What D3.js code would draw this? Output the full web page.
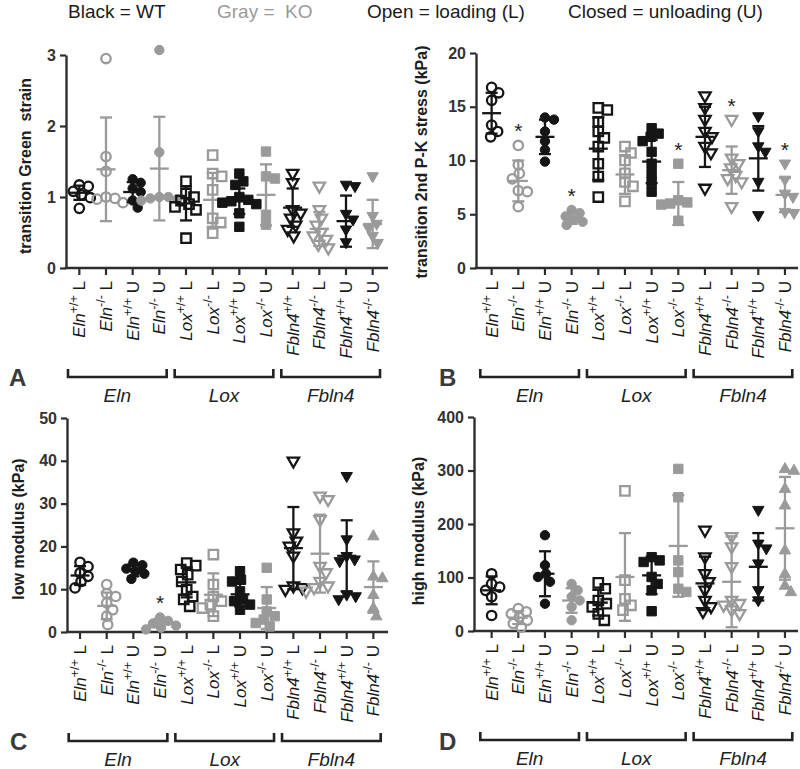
<!DOCTYPE html>
<html><head><meta charset="utf-8">
<script src="https://cdn.jsdelivr.net/npm/d3@7"></script>
<style>
body{margin:0;background:#fff}
svg{display:block}
text{font-family:"Liberation Sans", Arial, Helvetica, sans-serif}
</style>
</head><body>
<svg id="chart" width="800" height="769"></svg>
<script>
// ---------- categories ----------
const geneNames   = ["Eln", "Lox", "Fbln4"];
const catGene     = ["Eln","Eln","Eln","Eln","Lox","Lox","Lox","Lox","Fbln4","Fbln4","Fbln4","Fbln4"];
const catGenotype = ["+/+","-/-","+/+","-/-","+/+","-/-","+/+","-/-","+/+","-/-","+/+","-/-"];
const catPhase    = ["L","L","U","U","L","L","U","U","L","L","U","U"];

// ---------- A: transition Green strain ----------
const strainTicks = [0, 1, 2, 3];
const strainValues = [
  [1.17, 1.15, 1.08, 1.03, 0.99, 0.84],
  [2.95, 1.57, 1.36, 1.0, 0.98, 0.97, 0.92],
  [1.25, 1.2, 1.12, 1.07, 0.95, 0.85],
  [3.07, 1.63, 1.0, 1.0, 0.98, 0.97, 0.95],
  [1.22, 1.05, 1.0, 0.95, 0.9, 0.86, 0.82, 0.42],
  [1.59, 1.33, 1.29, 1.1, 0.7, 0.64, 0.49],
  [1.33, 1.22, 1.17, 1.0, 0.96, 0.94, 0.92, 0.9, 0.77, 0.58],
  [1.64, 1.29, 1.26, 0.75, 0.61],
  [1.33, 1.2, 0.82, 0.77, 0.7, 0.6, 0.54, 0.45],
  [1.15, 0.82, 0.7, 0.6, 0.5, 0.45, 0.4, 0.33, 0.28],
  [1.17, 1.15, 0.76, 0.68, 0.54, 0.36],
  [1.29, 0.73, 0.62, 0.56, 0.45, 0.35]
];
const strainMeans = [1.06, 1.39, 1.07, 1.40, 0.91, 0.96, 0.94, 1.03, 0.85, 0.55, 0.66, 0.62];
const strainSDs   = [0.10, 0.73, 0.14, 0.73, 0.24, 0.38, 0.18, 0.43, 0.27, 0.24, 0.36, 0.34];
const strainStars = [];

// ---------- B: transition 2nd P-K stress ----------
const stressTicks = [0, 5, 10, 15, 20];
const stressValues = [
  [16.8, 16.3, 15.6, 13.3, 12.7, 12.2],
  [11.4, 9.6, 8.8, 8.3, 7.2, 7.1, 5.7],
  [14.0, 13.8, 12.7, 11.8, 11.0, 9.9],
  [5.4, 5.1, 4.8, 4.5, 4.3, 4.0],
  [14.9, 14.7, 13.6, 12.7, 12.1, 11.3, 9.7, 8.5, 6.6],
  [11.3, 10.7, 10.0, 8.8, 8.0, 7.6, 6.2],
  [13.0, 12.5, 12.2, 11.8, 10.8, 9.7, 8.8, 8.0, 7.1],
  [9.7, 6.3, 6.1, 6.0, 5.9, 4.4],
  [16.0, 14.9, 13.8, 12.7, 12.2, 11.3, 10.7, 7.4],
  [13.8, 10.2, 9.7, 9.3, 8.6, 8.3, 8.0, 5.7],
  [14.1, 12.7, 11.3, 10.8, 8.0, 4.9],
  [9.7, 8.2, 6.9, 6.6, 5.2, 5.1]
];
const stressMeans = [14.4, 8.1, 12.2, 4.6, 11.1, 8.7, 9.9, 6.0, 12.2, 9.1, 10.2, 6.8];
const stressSDs   = [1.9, 1.9, 1.6, 0.5, 2.9, 1.8, 2.0, 2.0, 2.8, 2.2, 3.0, 1.6];
const stressStars = [1, 3, 7, 9, 11];

// ---------- C: low modulus ----------
const lowTicks = [0, 10, 20, 30, 40, 50];
const lowValues = [
  [16.3, 15.3, 13.8, 13.0, 11.8, 10.3],
  [11.1, 9.0, 8.3, 6.8, 5.2, 3.7, 1.7],
  [16.2, 15.6, 14.8, 14.2, 13.6, 12.4],
  [3.4, 2.6, 2.0, 1.5, 1.0, 0.6],
  [16.1, 15.5, 14.6, 13.4, 11.8, 9.9, 8.3, 7.6, 6.0],
  [18.1, 11.1, 8.3, 7.2, 6.4, 5.6, 3.7],
  [14.2, 12.2, 11.8, 9.5, 7.6, 7.2, 6.4, 5.2],
  [15.0, 7.6, 4.8, 3.7, 2.9, 2.1, 1.3],
  [39.9, 23.1, 21.2, 20.0, 17.7, 10.7, 10.3, 9.9],
  [31.7, 30.9, 26.2, 15.3, 13.8, 11.8, 10.7, 10.3, 9.5],
  [36.4, 21.6, 17.7, 16.9, 16.5, 8.7, 8.3, 7.6],
  [22.4, 13.0, 12.6, 8.7, 5.6, 3.7]
];
const lowMeans = [13.2, 6.1, 14.4, 2.1, 11.6, 8.7, 8.8, 5.6, 19.6, 18.3, 17.8, 10.5];
const lowSDs   = [2.2, 3.1, 1.4, 1.0, 3.5, 5.0, 2.8, 4.9, 9.6, 9.1, 8.3, 6.0];
const lowStars = [3];

// ---------- D: high modulus ----------
const highTicks = [0, 100, 200, 300, 400];
const highValues = [
  [107, 88, 82, 76, 64, 29],
  [42, 36, 32, 26, 20, 14, 7],
  [179, 123, 107, 101, 92, 51],
  [88, 76, 64, 57, 45, 20],
  [90, 79, 57, 51, 45, 32, 20],
  [262, 95, 60, 48, 39],
  [138, 132, 129, 101, 88, 76, 37],
  [303, 250, 132, 110, 79, 73],
  [188, 138, 107, 92, 76, 57, 45, 36],
  [176, 157, 120, 57, 51, 48, 39, 32],
  [226, 163, 154, 126, 76, 57],
  [303, 300, 266, 235, 151, 107, 85, 73]
];
const highMeans = [76, 25, 107, 57, 53, 101, 104, 159, 89, 92, 120, 192];
const highSDs   = [26, 12, 42, 23, 24, 82, 35, 95, 50, 85, 63, 96];
const highStars = [];

// ---------- header legend ----------
const legendTexts = ["Black = WT", "Gray =  KO", "Open = loading (L)", "Closed = unloading (U)"];

// ---------- drawing ----------
const BLACK = "#151515", GRAY = "#9a9a9a", AXIS = "#2e2e2e";
const svg = d3.select("#chart");

const legendX = [68, 217, 367, 568];
svg.selectAll("text.legend").data(legendTexts).join("text")
  .attr("class","legend")
  .attr("x", (d,i) => legendX[i]).attr("y", 18)
  .attr("font-size", 19)
  .attr("fill", (d,i) => i === 1 ? GRAY : "#1a1a1a")
  .style("white-space","pre")
  .attr("xml:space","preserve")
  .text(d => d);

const panels = [
  {letter:"A", values:strainValues, means:strainMeans, sds:strainSDs, ticks:strainTicks, stars:strainStars,
   title:"transition Green  strain", axisX:66, bandL:66, bandR:386, axisEnd:388, yB:268, yT:55,
   titleX:31, titleY:166, letterX:9, letterY:386, upLast:false},
  {letter:"B", values:stressValues, means:stressMeans, sds:stressSDs, ticks:stressTicks, stars:stressStars,
   title:"transition 2nd P-K stress (kPa)", axisX:476, bandL:478.3, bandR:798.3, axisEnd:798, yB:268, yT:53,
   titleX:427, titleY:162, letterX:439, letterY:386, upLast:false},
  {letter:"C", values:lowValues, means:lowMeans, sds:lowSDs, ticks:lowTicks, stars:lowStars,
   title:"low modulus (kPa)", axisX:67, bandL:66.7, bandR:386.7, axisEnd:388, yB:632, yT:418,
   titleX:24, titleY:529, letterX:10, letterY:750, upLast:true},
  {letter:"D", values:highValues, means:highMeans, sds:highSDs, ticks:highTicks, stars:highStars,
   title:"high modulus (kPa)", axisX:474, bandL:478.3, bandR:798.3, axisEnd:798, yB:631, yT:417,
   titleX:424, titleY:531, letterX:439, letterY:750, upLast:true}
];

function swarm(vals, y, cx) {
  const order = vals.map((v,i)=>i).sort((a,b)=>vals[b]-vals[a]);
  const placed = [];
  const D = 8.6;
  const out = [];
  for (const i of order) {
    const py = y(vals[i]);
    let off = 0;
    for (let k = 0; k < 90; k++) {
      const o = k === 0 ? 0 : (k % 2 ? Math.ceil(k/2) : -k/2);
      if (placed.every(q => (q.x-o)*(q.x-o) + (q.y-py)*(q.y-py) >= D*D)) { off = o; break; }
    }
    placed.push({x:off, y:py});
    out.push({x:cx+off, y:py, v:vals[i]});
  }
  return out;
}

function shapePath(kind) {
  if (kind === "circle") { const r = 4.7; return `M${-r},0A${r},${r} 0 1,0 ${r},0A${r},${r} 0 1,0 ${-r},0Z`; }
  if (kind === "square") { const h = 4.7; return `M${-h},${-h}H${h}V${h}H${-h}Z`; }
  if (kind === "down")   { const w = 5.7, t = 3.7, b = 6.3; return `M${-w},${-t}H${w}L0,${b}Z`; }
  if (kind === "up")     { const w = 5.7, t = 3.7, b = 6.3; return `M${-w},${t}H${w}L0,${-b}Z`; }
}

function drawPanel(p) {
  const g = svg.append("g");
  const y = d3.scaleLinear().domain([p.ticks[0], p.ticks[p.ticks.length-1]]).range([p.yB, p.yT]);
  const x = d3.scaleBand().domain(d3.range(12)).range([p.bandL, p.bandR]);
  const bw = x.bandwidth();

  // y axis
  const ya = g.append("g").attr("transform", `translate(${p.axisX},0)`)
    .call(d3.axisLeft(y).tickValues(p.ticks).tickSizeInner(6).tickSizeOuter(0).tickPadding(4).tickFormat(d3.format("d")));
  ya.select(".domain").attr("stroke", AXIS).attr("stroke-width", 2.4);
  ya.selectAll(".tick line").attr("stroke", AXIS).attr("stroke-width", 2.2);
  ya.selectAll(".tick text").attr("font-size", 16).attr("font-weight", "bold").attr("fill", "#333")
    .attr("font-family", "'Liberation Sans', Arial, sans-serif");

  // x axis
  g.append("line").attr("x1", p.axisX - 1.2).attr("x2", p.axisEnd).attr("y1", p.yB).attr("y2", p.yB)
    .attr("stroke", AXIS).attr("stroke-width", 2.4);
  const xa = g.append("g").attr("transform", `translate(0,${p.yB})`)
    .call(d3.axisBottom(x).tickSizeInner(7).tickSizeOuter(0).tickFormat(""));
  xa.select(".domain").remove();
  xa.selectAll(".tick line").attr("stroke", AXIS).attr("stroke-width", 2.2);

  // category labels
  d3.range(12).forEach(i => {
    const t = g.append("text")
      .attr("transform", `translate(${x(i) + bw/2 + 6},${p.yB + 13}) rotate(-90)`)
      .attr("text-anchor", "end").attr("font-size", 17).attr("fill", "#1a1a1a");
    t.append("tspan").attr("font-style", "italic").text(catGene[i]);
    t.append("tspan").attr("font-size", 12.5).attr("dy", -7).text(catGenotype[i]);
    t.append("tspan").attr("dy", 7).text("\u00a0" + catPhase[i]);
  });

  // group brackets
  const by = p.yB + 109;
  geneNames.forEach((gn, gi) => {
    const xl = x(gi*4) + 2, xr = x(gi*4+3) + bw - 6;
    g.append("path").attr("d", `M${xl},${by-8}V${by}H${xr}V${by-8}`)
      .attr("fill", "none").attr("stroke", "#222").attr("stroke-width", 2.6);
    g.append("text").attr("x", (xl+xr)/2).attr("y", by + 25).attr("text-anchor", "middle")
      .attr("font-size", 19).attr("font-style", "italic").attr("fill", "#222").text(gn);
  });

  // y title
  g.append("text").attr("transform", `translate(${p.titleX},${p.titleY}) rotate(-90)`)
    .attr("text-anchor", "middle").attr("font-size", 16).attr("font-weight", "bold").attr("fill", "#1e1e1e")
    .attr("xml:space", "preserve").style("white-space", "pre").text(p.title);

  // panel letter
  g.append("text").attr("x", p.letterX).attr("y", p.letterY).attr("font-size", 24).attr("font-weight", "bold")
    .attr("fill", "#3a3a3a").text(p.letter);

  // points
  d3.range(12).forEach(i => {
    const cx = x(i) + bw/2;
    const col = catGenotype[i] === "+/+" ? BLACK : GRAY;
    const filled = catPhase[i] === "U";
    let kind = catGene[i] === "Eln" ? "circle" : catGene[i] === "Lox" ? "square" : "down";
    if (i === 11 && p.upLast) kind = "up";
    const pts = swarm(p.values[i], y, cx);
    g.append("g").selectAll("path").data(pts).join("path")
      .attr("transform", d => `translate(${d.x},${d.y})`)
      .attr("d", shapePath(kind))
      .attr("fill", filled ? col : "none")
      .attr("stroke", col).attr("stroke-width", filled ? 1 : 2.3)
      .attr("stroke-linejoin", "miter");

    // mean & SD
    const m = p.means[i], s = p.sds[i];
    const lo = Math.max(y.domain()[0], m - s), hi = m + s;
    const eg = g.append("g").attr("stroke", col).attr("stroke-width", 2.3).attr("fill", "none");
    eg.append("line").attr("x1", cx).attr("x2", cx).attr("y1", y(lo)).attr("y2", y(hi));
    eg.append("line").attr("x1", cx-6).attr("x2", cx+6).attr("y1", y(lo)).attr("y2", y(lo));
    eg.append("line").attr("x1", cx-6).attr("x2", cx+6).attr("y1", y(hi)).attr("y2", y(hi));
    eg.append("line").attr("x1", cx-9.5).attr("x2", cx+9.5).attr("y1", y(m)).attr("y2", y(m));

    if (p.stars.includes(i)) {
      g.append("text").attr("x", cx).attr("y", y(d3.max(p.values[i])) - 7)
        .attr("text-anchor", "middle").attr("font-size", 21).attr("fill", "#222").text("*");
    }
  });
}

panels.forEach(drawPanel);
</script>
</body></html>
